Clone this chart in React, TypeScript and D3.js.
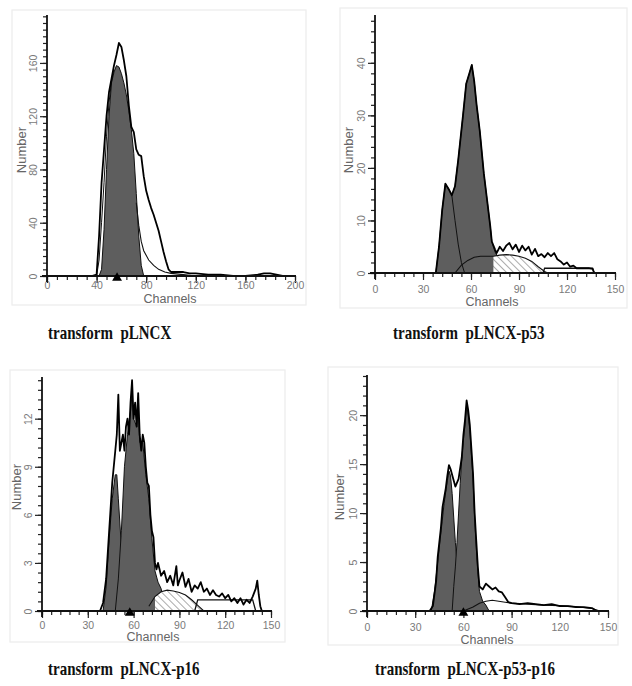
import * as d3 from 'd3';
import React, { useEffect, useRef } from 'react';

// ---- panel 1: transform pLNCX (channels 0-200) ----
const p1Channels = [36, 40, 42, 44, 46, 48, 50, 52, 54, 56, 58, 60, 62, 64, 66, 68, 70, 72, 74, 76, 78, 80, 82, 84, 86, 88, 90, 92, 94, 96, 98, 100, 105, 110, 115, 120, 130, 140, 150, 160, 170, 175, 180, 185, 190, 200];
const p1Raw = [0, 1, 30, 70, 95, 120, 138, 148, 158, 166, 175, 172, 162, 150, 128, 112, 108, 95, 91, 90, 75, 64, 57, 51, 46, 40, 34, 26, 18, 11, 5, 3, 3, 3, 2, 2, 1, 1, 0, 0, 1, 2, 2, 1, 0, 0];
const p1FillChannels = [42, 44, 46, 48, 50, 52, 54, 56, 58, 60, 62, 64, 66, 68, 70, 72, 74, 76, 78];
const p1Fill = [0, 5, 35, 80, 120, 145, 153, 158, 157, 152, 145, 136, 124, 110, 92, 62, 30, 8, 0];
const p1FitChannels = [40, 42, 44, 46, 48, 50, 52, 54];
const p1Fit = [0, 12, 40, 70, 105, 130, 146, 155];
const p1SChannels = [72, 74, 76, 78, 82, 86, 90, 95, 100, 110, 120];
const p1S = [55, 38, 26, 19, 12, 8, 5, 3, 2, 1, 0];

// ---- panel 2: transform pLNCX-p53 ----
const p2Channels = [38, 40, 42, 44, 46, 48, 50, 52, 55, 57, 59, 60.5, 62, 63.5, 65.5, 68, 70, 72, 73, 75, 76, 78, 80, 82, 84, 86, 88, 90, 92, 94, 96, 98, 100, 102, 104, 106, 108, 110, 112, 114, 116, 118, 120, 122, 124, 126, 130, 134, 136, 137];
const p2Raw = [0, 5, 12, 17, 16, 14.8, 16.5, 21.5, 30, 36, 38, 39.6, 36.5, 32, 27, 19, 14, 9, 6, 4.5, 3.8, 5, 4.2, 5.2, 5.7, 4.5, 5.4, 4, 5.2, 4.3, 5, 3.5, 4.6, 3.2, 3.6, 3, 3.8, 3.2, 3.8, 2.6, 2.2, 1.6, 2, 1.2, 1.4, 0.9, 0.9, 0.9, 0.8, 0];
const p2FillChannels = [38, 40, 42, 44, 46, 48, 50, 52, 55, 57, 59, 60.5, 62, 63.5, 65.5, 68, 70, 72, 73, 75, 77, 79];
const p2Fill = [0, 5, 12, 17, 16, 14.8, 16.5, 21.5, 30, 36, 38, 39.6, 36.5, 32, 27, 19, 14, 9, 6, 4, 3, 0];
const p2Peak1Channels = [48, 50, 52, 54, 56];
const p2Peak1 = [14.8, 10, 5.5, 2, 0];
const p2SChannels = [50, 54, 58, 62, 66, 70, 74, 78, 82, 86, 90, 94, 98, 102, 106, 108];
const p2S = [0, 1.5, 2.4, 3, 3.2, 3.2, 3.2, 3.4, 3.5, 3.4, 3.2, 2.8, 2.2, 1.2, 0.3, 0];
const p2G2Channels = [105, 106, 136, 137];
const p2G2 = [0, 0.9, 0.9, 0];

// ---- panel 3: transform pLNCX-p16 ----
const p3Channels = [38, 40, 42, 44, 46, 48, 49, 50, 51, 52, 53, 54, 55, 56, 57, 58, 59, 60, 61, 62, 63, 64, 65, 66, 67, 68, 69, 70, 71, 72, 73, 74, 75, 76, 78, 80, 82, 84, 86, 88, 89, 90, 92, 94, 96, 98, 100, 102, 104, 106, 108, 110, 112, 114, 116, 118, 120, 122, 124, 126, 128, 130, 132, 134, 136, 138, 140, 141, 142, 143, 144];
const p3Raw = [0, 0.5, 2, 5, 8, 10, 11, 13.5, 10, 10.5, 11, 10, 11.5, 12, 11, 13, 14.4, 12, 13, 11.5, 13.6, 11, 10, 11, 10.5, 9, 8, 7.8, 6, 5, 4.6, 3, 2.6, 3, 2.2, 2.5, 1.8, 2.2, 1.6, 2.8, 1.6, 1.9, 2.4, 1.5, 2, 1.2, 1.6, 1.4, 1.8, 1.2, 1.4, 1, 1.3, 1, 0.9, 1.1, 0.8, 1, 0.6, 0.8, 0.5, 0.8, 0.4, 0.7, 0.5, 0.9, 1.4, 1.9, 1, 0.3, 0];
const p3FillAChannels = [40, 42, 44, 46, 48, 49, 50, 52, 54, 56, 58];
const p3FillA = [0, 1.5, 4.5, 7, 8.5, 8.5, 7, 4, 2, 0.5, 0];
const p3FillBChannels = [48, 50, 52, 54, 56, 58, 59, 60, 62, 63, 64, 66, 68, 70, 72, 74, 76, 78, 80, 82];
const p3FillB = [0, 2, 5, 9, 11, 12.5, 13.5, 12, 11.5, 12.5, 10.5, 10.5, 8.5, 7, 4.5, 2.5, 1.8, 1.4, 0.5, 0];
const p3SChannels = [70, 74, 78, 82, 86, 90, 94, 98, 102, 106];
const p3S = [0.3, 0.9, 1.2, 1.3, 1.25, 1.15, 1, 0.7, 0.35, 0];
const p3G2Channels = [100, 102, 138, 140];
const p3G2 = [0, 0.7, 0.7, 0];

// ---- panel 4: transform pLNCX-p53-p16 ----
const p4Channels = [39, 41, 43, 44, 46, 47, 49, 50, 51, 52, 54, 55, 57, 59, 60, 61, 62, 63, 64, 65, 66, 67, 68, 69, 70, 72, 74, 76, 78, 80, 82, 84, 86, 88, 90, 95, 100, 105, 110, 115, 120, 125, 130, 135, 140, 143];
const p4Raw = [0, 0.5, 3, 5.5, 8.5, 10.6, 12.5, 13.8, 14.9, 14.5, 13.3, 12.7, 13.5, 15.7, 18, 19.5, 21.5, 20.5, 19, 16.5, 14, 10, 7.2, 4.5, 2.5, 2.2, 2.8, 2.5, 2.2, 2.4, 2, 1.9, 1.4, 0.9, 0.8, 0.7, 0.8, 0.7, 0.6, 0.7, 0.5, 0.5, 0.4, 0.4, 0.3, 0];
const p4FillAChannels = [40, 42, 44, 46, 48, 50, 51, 52, 53, 54, 55, 56, 58, 60, 62];
const p4FillA = [0, 2, 5, 8, 11, 13.3, 14.3, 13.8, 12, 9.5, 7, 5, 2, 0.5, 0];
const p4FillBChannels = [53, 54, 55, 56, 57, 58, 59, 60, 61, 62, 63, 64, 65, 66, 67, 68, 69, 70, 72, 74, 76];
const p4FillB = [0, 2.5, 4.5, 7, 10, 13, 15.5, 17.5, 19, 21, 20, 18.5, 16, 13.5, 9.5, 6.5, 4, 2, 1, 0.6, 0];
const p4SChannels = [60, 66, 70, 74, 78, 82, 86, 90, 100, 110, 120, 130, 140, 145];
const p4S = [0, 0.4, 0.8, 1, 1.1, 1, 0.9, 0.8, 0.7, 0.6, 0.55, 0.45, 0.25, 0];

const xLabels200 = [0, 40, 80, 120, 160, 200];
const xLabels150 = [0, 30, 60, 90, 120, 150];
const captions = ['transform  pLNCX', 'transform  pLNCX-p53', 'transform  pLNCX-p16', 'transform  pLNCX-p53-p16'];

const GRAY = '#5e5e5e';
const pairs = (xs, ys) => d3.zip(xs, ys);

const panels = [
    {
        caption: captions[0], captionPos: [48, 339],
        left: 47, right: 295, top: 15, bottom: 276, xMax: 200, yMax: 196,
        xLabels: xLabels200, xMinor: 8, yLabels: [0, 40, 80, 120, 160], yMinor: 5, xGap: 9,
        frame: [12, 10, 294, 295], numberPos: [21, 150], channelsPos: [170, 299], marker: 56.5,
        raw: pairs(p1Channels, p1Raw),
        fills: [pairs(p1FillChannels, p1Fill)],
        s: pairs(p1SChannels, p1S), hatchFrom: null, g2: null,
        thin: [pairs(p1FitChannels, p1Fit)],
    },
    {
        caption: captions[1], captionPos: [393, 339],
        left: 375, right: 615, top: 15, bottom: 273, xMax: 150, yMax: 49.1,
        xLabels: xLabels150, xMinor: 6, yLabels: [0, 10, 20, 30, 40], yMinor: 2, xGap: 16,
        frame: [340, 8, 287, 300], numberPos: [348, 150], channelsPos: [492, 302], marker: null,
        raw: pairs(p2Channels, p2Raw),
        fills: [pairs(p2FillChannels, p2Fill)],
        s: pairs(p2SChannels, p2S), hatchFrom: 74, g2: pairs(p2G2Channels, p2G2),
        thin: [pairs(p2Peak1Channels, p2Peak1)],
    },
    {
        caption: captions[2], captionPos: [48, 675],
        left: 42, right: 271, top: 377, bottom: 611, xMax: 150, yMax: 14.6,
        xLabels: xLabels150, xMinor: 6, yLabels: [0, 3, 6, 9, 12], yMinor: 0.6, xGap: 14,
        frame: [10, 370, 275, 272], numberPos: [16, 487], channelsPos: [153, 637], marker: 57.5,
        raw: pairs(p3Channels, p3Raw),
        fills: [pairs(p3FillAChannels, p3FillA), pairs(p3FillBChannels, p3FillB)],
        s: pairs(p3SChannels, p3S), hatchFrom: 74, g2: pairs(p3G2Channels, p3G2),
        thin: [],
    },
    {
        caption: captions[3], captionPos: [375, 675],
        left: 367, right: 608, top: 375, bottom: 611, xMax: 150, yMax: 24.1,
        xLabels: xLabels150, xMinor: 6, yLabels: [0, 5, 10, 15, 20], yMinor: 1, xGap: 16,
        frame: [328, 367, 290, 278], numberPos: [339, 497], channelsPos: [487, 640], marker: 60,
        raw: pairs(p4Channels, p4Raw),
        fills: [pairs(p4FillAChannels, p4FillA), pairs(p4FillBChannels, p4FillB)],
        s: pairs(p4SChannels, p4S), hatchFrom: null, g2: null,
        thin: [],
    },
];

function drawPanel(svg, p) {
    const x = d3.scaleLinear().domain([0, p.xMax]).range([p.left, p.right]);
    const y = d3.scaleLinear().domain([0, p.yMax]).range([p.bottom, p.top]);
    const g = svg.append('g');

    g.append('rect')
        .attr('x', p.frame[0]).attr('y', p.frame[1])
        .attr('width', p.frame[2]).attr('height', p.frame[3])
        .attr('fill', 'none').attr('stroke', '#ececec').attr('stroke-width', 1.2);

    const area = d3.area().x(d => x(d[0])).y0(y(0)).y1(d => y(d[1]));
    const line = d3.line().x(d => x(d[0])).y(d => y(d[1]));

    g.append('path').attr('d', area(p.raw)).attr('fill', '#fff');

    p.fills.forEach(f => {
        g.append('path').attr('d', area(f))
            .attr('fill', GRAY).attr('stroke', '#111').attr('stroke-width', 1);
    });

    if (p.hatchFrom != null) {
        g.append('path').attr('d', area(p.s.filter(d => d[0] >= p.hatchFrom)))
            .attr('fill', 'url(#hatch)');
    }
    g.append('path').attr('d', line(p.s))
        .attr('fill', 'none').attr('stroke', '#111').attr('stroke-width', 1.1);

    if (p.g2) {
        g.append('path').attr('d', line(p.g2))
            .attr('fill', 'none').attr('stroke', '#111').attr('stroke-width', 1.3);
    }
    p.thin.forEach(t => {
        g.append('path').attr('d', line(t))
            .attr('fill', 'none').attr('stroke', '#111').attr('stroke-width', 1);
    });

    g.append('path').attr('d', line(p.raw))
        .attr('fill', 'none').attr('stroke', '#000').attr('stroke-width', 1.8)
        .attr('stroke-linejoin', 'round');

    // axes
    const minorX = d3.range(0, p.xMax + 1e-6, p.xMinor);
    const minorY = d3.range(0, p.yMax, p.yMinor);

    const xMinorG = g.append('g').attr('transform', `translate(0,${p.bottom})`)
        .call(d3.axisBottom(x).tickValues(minorX).tickSize(4).tickFormat(() => ''));
    const xMajorG = g.append('g').attr('transform', `translate(0,${p.bottom})`)
        .call(d3.axisBottom(x).tickValues(p.xLabels).tickSize(7));
    const yMinorG = g.append('g').attr('transform', `translate(${p.left},0)`)
        .call(d3.axisLeft(y).tickValues(minorY).tickSize(4).tickFormat(() => ''));
    const yMajorG = g.append('g').attr('transform', `translate(${p.left},0)`)
        .call(d3.axisLeft(y).tickValues(p.yLabels).tickSize(7));

    [xMinorG, xMajorG, yMinorG, yMajorG].forEach(a => {
        a.select('.domain').remove();
        a.selectAll('.tick line').attr('stroke', '#222').attr('stroke-width', 1.2);
        a.selectAll('.tick text')
            .attr('fill', '#7a7a7a')
            .style('font-family', '"Liberation Sans", Arial, sans-serif')
            .style('font-size', '10.5px');
    });

    xMajorG.selectAll('.tick text').attr('y', p.xGap).attr('dy', '0.35em');
    yMajorG.selectAll('.tick text')
        .attr('x', 0).attr('y', -10).attr('dy', 0)
        .attr('text-anchor', 'middle')
        .attr('transform', 'rotate(-90)');

    g.append('line')
        .attr('x1', p.left - 5).attr('x2', p.right + 1)
        .attr('y1', p.bottom).attr('y2', p.bottom)
        .attr('stroke', '#111').attr('stroke-width', 1.8);
    g.append('line')
        .attr('x1', p.left).attr('x2', p.left)
        .attr('y1', p.bottom + 6).attr('y2', p.top)
        .attr('stroke', '#111').attr('stroke-width', 1.8);

    if (p.marker != null) {
        g.append('path')
            .attr('d', d3.symbol(d3.symbolTriangle, 42)())
            .attr('transform', `translate(${x(p.marker)},${p.bottom + 2})`)
            .attr('fill', '#000');
    }

    g.append('text')
        .attr('transform', `translate(${p.numberPos[0]},${p.numberPos[1]}) rotate(-90)`)
        .attr('text-anchor', 'middle').attr('dy', '0.35em')
        .attr('fill', '#666')
        .style('font-family', '"Liberation Sans", Arial, sans-serif')
        .style('font-size', '13px')
        .text('Number');

    g.append('text')
        .attr('x', p.channelsPos[0]).attr('y', p.channelsPos[1])
        .attr('text-anchor', 'middle').attr('dy', '0.35em')
        .attr('fill', '#666')
        .style('font-family', '"Liberation Sans", Arial, sans-serif')
        .style('font-size', '12.5px')
        .text('Channels');

    g.append('text')
        .attr('transform', `translate(${p.captionPos[0]},${p.captionPos[1]}) scale(1,1.25)`)
        .attr('fill', '#111')
        .style('font-family', '"Liberation Serif", "Times New Roman", serif')
        .style('font-weight', 'bold')
        .style('font-size', '15px')
        .style('white-space', 'pre')
        .text(p.caption);
}

export default function App() {
    const ref = useRef(null);

    useEffect(() => {
        const svg = d3.select(ref.current);
        svg.selectAll('*').remove();

        const pat = svg.append('defs').append('pattern')
            .attr('id', 'hatch')
            .attr('patternUnits', 'userSpaceOnUse')
            .attr('width', 5).attr('height', 5)
            .attr('patternTransform', 'rotate(-45)');
        pat.append('rect').attr('width', 5).attr('height', 5).attr('fill', '#fff');
        pat.append('line')
            .attr('x1', 0).attr('y1', 0).attr('x2', 0).attr('y2', 5)
            .attr('stroke', '#444').attr('stroke-width', 0.9);

        panels.forEach(p => drawPanel(svg, p));
    }, []);

    return (
        <svg ref={ref} width={632} height={686}
            style={{ position: 'absolute', left: 0, top: 0, background: '#fff' }} />
    );
}
